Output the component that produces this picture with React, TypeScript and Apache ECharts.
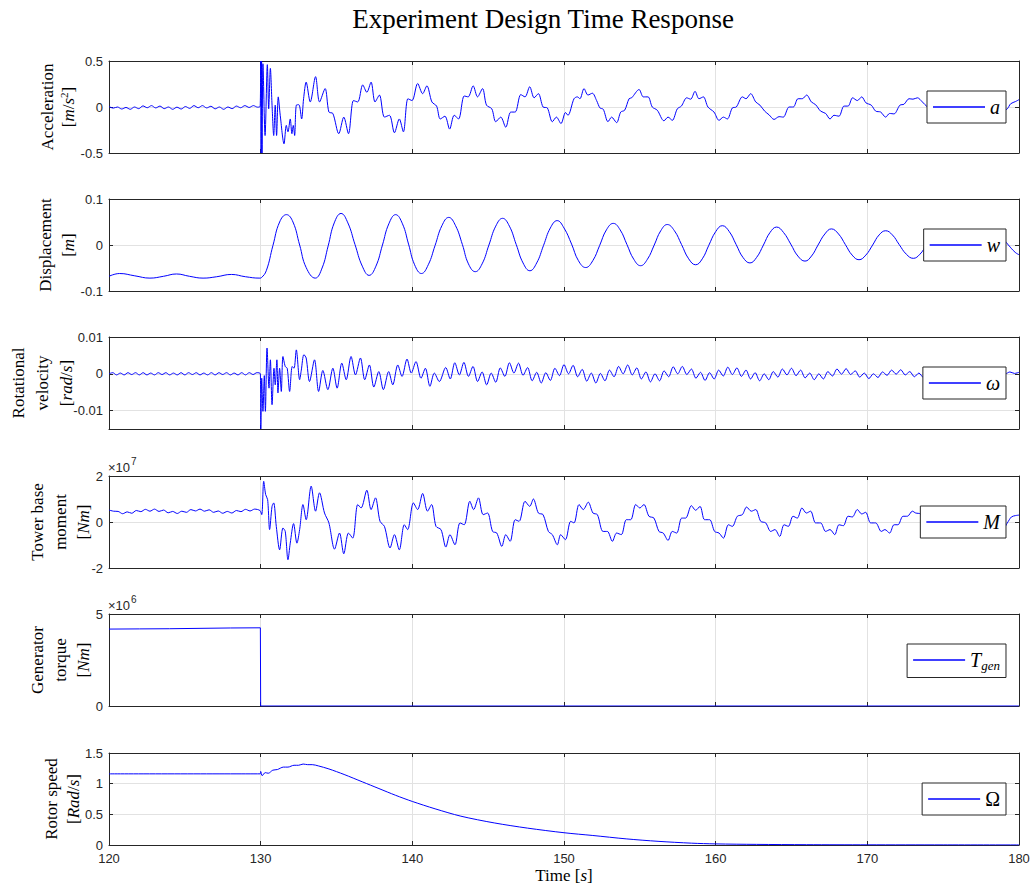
import React, { useEffect, useRef } from 'react';
import * as echarts from 'echarts';

type P = [number, number];

const chartTitle = 'Experiment Design Time Response';
const timeMin = 120;
const timeMax = 180;
const timeStep = 10;

// ---------- Acceleration a [m/s^2] ----------
const accelPre: P[] = [
  [120.0, 0.005], [120.28, -0.012], [120.56, 0.0], [120.84, -0.022], [121.12, -0.005], [121.4, -0.025],
  [121.68, 0.0], [121.96, -0.018], [122.24, 0.012], [122.52, -0.008], [122.8, 0.015], [123.08, -0.01],
  [123.36, 0.01], [123.64, -0.018], [123.92, 0.0], [124.2, -0.025], [124.48, -0.002], [124.76, -0.022],
  [125.04, 0.005], [125.32, -0.015], [125.6, 0.015], [125.88, -0.008], [126.16, 0.015], [126.44, -0.01],
  [126.72, 0.008], [127.0, -0.02], [127.28, 0.0], [127.56, -0.025], [127.84, 0.0], [128.12, -0.018],
  [128.4, 0.01], [128.68, -0.008], [128.96, 0.015], [129.24, -0.005], [129.52, 0.015], [129.8, -0.002],
  [129.97, 0.008],
];
const accelPost: P[] = [
  [130.0, 0.5], [130.03, -0.5], [130.06, 0.5], [130.09, -0.5], [130.15, 0.47], [130.29, -0.31],
  [130.44, 0.46], [130.53, -0.02], [130.64, 0.42], [130.75, 0.02], [130.86, -0.31], [130.96, 0.02],
  [131.05, -0.31], [131.16, 0.11], [131.29, -0.09], [131.54, -0.4], [131.69, -0.2], [131.8, -0.27],
  [131.95, -0.13], [132.06, -0.29], [132.15, -0.2], [132.24, -0.31], [132.35, 0.02], [132.52, 0.025],
  [132.7, -0.13], [132.83, 0.09], [133.0, 0.27], [133.27, 0.055], [133.62, 0.33], [133.88, 0.055],
  [134.25, 0.2], [134.5, -0.055], [134.76, -0.07], [135.15, -0.29], [135.48, -0.11], [135.79, -0.29],
  [136.12, 0.07], [136.4, 0.055], [136.73, 0.24], [137.0, 0.16], [137.28, 0.27], [137.54, 0.055],
  [137.83, 0.13], [138.16, -0.11], [138.49, -0.09], [138.82, -0.28], [139.14, -0.13], [139.41, -0.27],
  [139.71, 0.09], [139.98, 0.07], [140.35, 0.255], [140.68, 0.145], [140.96, 0.23], [141.29, 0.055],
  [141.6, 0.01], [141.84, -0.13], [142.15, -0.1], [142.46, -0.24], [142.76, -0.09], [143.05, -0.13],
  [143.42, 0.12], [143.68, 0.11], [144.01, 0.23], [144.3, 0.11], [144.63, 0.2], [144.89, 0.02],
  [145.24, -0.02], [145.5, -0.16], [145.83, -0.11], [146.16, -0.22], [146.49, -0.055], [146.78, -0.055],
  [147.15, 0.135], [147.43, 0.11], [147.74, 0.22], [148.03, 0.1], [148.31, 0.145], [148.62, 0.0],
  [148.9, -0.01], [149.23, -0.16], [149.5, -0.11], [149.8, -0.18], [150.1, -0.06], [150.26, -0.09],
  [150.66, 0.09], [150.88, 0.11], [151.05, 0.09], [151.32, 0.2], [151.58, 0.13], [151.87, 0.15],
  [152.15, 0.07], [152.37, -0.01], [152.59, -0.025], [152.9, -0.16], [153.14, -0.11], [153.47, -0.17],
  [153.74, -0.055], [154.0, -0.035], [154.29, 0.09], [154.46, 0.1], [154.95, 0.19], [155.23, 0.11],
  [155.54, 0.11], [155.82, 0.0], [156.15, -0.035], [156.59, -0.15], [156.86, -0.11], [157.14, -0.145],
  [157.47, -0.02], [157.74, 0.01], [158.09, 0.1], [158.35, 0.085], [158.64, 0.17], [158.9, 0.09],
  [159.19, 0.11], [159.49, 0.0], [159.89, -0.055], [160.22, -0.145], [160.51, -0.11], [160.77, -0.13],
  [161.1, -0.01], [161.36, 0.0], [161.76, 0.11], [162.0, 0.09], [162.31, 0.145], [162.64, 0.055],
  [162.92, 0.02], [163.23, -0.045], [163.52, -0.085], [163.85, -0.135], [164.18, -0.105], [164.46, -0.11],
  [164.84, 0.0], [165.12, 0.0], [165.43, 0.09], [165.71, 0.09], [166.0, 0.13], [166.31, 0.055],
  [166.59, 0.025], [166.92, -0.045], [167.25, -0.07], [167.54, -0.13], [167.8, -0.09], [168.13, -0.1],
  [168.46, 0.01], [168.73, 0.01], [169.03, 0.1], [169.34, 0.07], [169.63, 0.11], [169.91, 0.045],
  [170.26, 0.02], [170.55, -0.045], [170.88, -0.055], [171.21, -0.11], [171.47, -0.07], [171.76, -0.075],
  [172.15, 0.02], [172.42, 0.03], [172.75, 0.09], [173.01, 0.085], [173.3, 0.1], [173.63, 0.055],
  [173.96, 0.0], [174.3, -0.03], [174.7, -0.05], [175.0, -0.1], [175.4, -0.07], [175.7, -0.09],
  [176.0, -0.02], [176.4, 0.0], [176.7, 0.07], [177.0, 0.06], [177.3, 0.09], [177.6, 0.04],
  [178.0, 0.0], [178.3, -0.06], [178.6, -0.08], [178.9, -0.05], [179.23, -0.02], [179.45, 0.035],
  [179.78, 0.06], [180.0, 0.08],
];

// ---------- Displacement w [m] ----------
const dispPre: P[] = [
  [120.0, -0.068], [120.7, -0.062], [121.7, -0.067], [122.7, -0.072], [123.6, -0.068], [124.45, -0.063],
  [125.3, -0.068], [126.2, -0.072], [127.1, -0.069], [128.07, -0.064], [129.0, -0.069], [129.95, -0.072],
];
const dispPost: P[] = [
  [130.05, -0.071], [130.37, -0.056], [130.81, -0.001], [131.25, 0.05], [131.7, 0.066], [132.13, 0.05],
  [132.57, 0.0], [133.0, -0.049], [133.6, -0.072], [134.05, -0.05], [134.45, -0.002], [134.85, 0.048],
  [135.3, 0.0686], [135.75, 0.048], [136.22, 0.001], [136.7, -0.046], [137.15, -0.066], [137.6, -0.046],
  [138.03, 0.0], [138.45, 0.046], [138.9, 0.066], [139.35, 0.046], [139.75, 0.002], [140.15, -0.043],
  [140.6, -0.062], [141.05, -0.043], [141.5, -0.001], [141.95, 0.042], [142.4, 0.06], [142.85, 0.042],
  [143.3, 0.001], [143.7, -0.041], [144.15, -0.058], [144.6, -0.041], [145.05, 0.0], [145.5, 0.041],
  [145.95, 0.058], [146.4, 0.041], [146.85, 0.001], [147.3, -0.039], [147.75, -0.056], [148.2, -0.039],
  [148.65, -0.001], [149.1, 0.037], [149.55, 0.053], [150.0, 0.037], [150.5, 0.002], [150.95, -0.034],
  [151.43, -0.049], [151.9, -0.034], [152.35, -0.001], [152.8, 0.033], [153.25, 0.047], [153.7, 0.033],
  [154.15, 0.001], [154.6, -0.031], [155.05, -0.045], [155.5, -0.031], [155.95, 0.0], [156.38, 0.031],
  [156.81, 0.0445], [157.28, 0.031], [157.75, 0.001], [158.22, -0.03], [158.68, -0.043], [159.12, -0.03],
  [159.55, -0.0005], [160.0, 0.029], [160.44, 0.042], [160.9, 0.029], [161.35, 0.001], [161.8, -0.027],
  [162.26, -0.039], [162.7, -0.027], [163.15, 0.0], [163.58, 0.027], [164.02, 0.039], [164.48, 0.027],
  [164.95, 0.002], [165.42, -0.024], [165.89, -0.035], [166.32, -0.024], [166.75, 0.0], [167.2, 0.024],
  [167.63, 0.035], [168.1, 0.024], [168.55, 0.001], [169.0, -0.022], [169.45, -0.032], [169.9, -0.022],
  [170.35, 0.0], [170.78, 0.022], [171.21, 0.031], [171.65, 0.022], [172.1, 0.001], [172.57, -0.02],
  [173.03, -0.029], [173.47, -0.02], [173.9, 0.0], [174.35, 0.019], [174.8, 0.027], [175.25, 0.019],
  [175.7, 0.0], [176.15, -0.018], [176.6, -0.026], [177.05, -0.018], [177.5, 0.0], [177.95, 0.017],
  [178.4, 0.024], [178.85, 0.017], [179.3, 0.0], [179.75, -0.016], [180.0, -0.021],
];

// ---------- Rotational velocity omega [rad/s] ----------
const omegaPre: P[] = [
  [120.0, 0.0], [120.25, 0.0003], [120.5, -0.0003], [120.75, 0.0002], [121.0, -0.0003], [121.25, 0.0003],
  [121.5, -0.0002], [121.75, 0.0003], [122.0, -0.0003], [122.25, 0.0003], [122.5, -0.0003], [122.75, 0.0002],
  [123.0, -0.0003], [123.25, 0.0003], [123.5, -0.0002], [123.75, 0.0003], [124.0, -0.0003], [124.25, 0.0002],
  [124.5, -0.0003], [124.75, 0.0003], [125.0, -0.0003], [125.25, 0.0003], [125.5, -0.0002], [125.75, 0.0003],
  [126.0, -0.0003], [126.25, 0.0002], [126.5, -0.0003], [126.75, 0.0003], [127.0, -0.0003], [127.25, 0.0003],
  [127.5, -0.0002], [127.75, 0.0003], [128.0, -0.0003], [128.25, 0.0002], [128.5, -0.0003], [128.75, 0.0003],
  [129.0, -0.0003], [129.25, 0.0003], [129.5, -0.0002], [129.75, 0.0003], [129.98, 0.0],
];
const omegaPost: P[] = [
  [130.01, -0.015], [130.07, -0.0012], [130.15, -0.0102], [130.24, -0.0005], [130.31, -0.0102],
  [130.42, 0.007], [130.55, -0.0039], [130.64, 0.0038], [130.75, -0.0084], [130.88, 0.0015],
  [130.96, -0.003], [131.07, 0.0038], [131.14, -0.0052], [131.25, 0.0015], [131.36, -0.0048],
  [131.47, 0.0047], [131.62, 0.002], [131.75, 0.0015], [131.91, -0.0048], [132.08, 0.002], [132.2, 0.0015],
  [132.35, 0.0065], [132.57, -0.0016], [132.68, 0.001], [132.85, 0.0052], [133.0, 0.0043],
  [133.22, -0.0021], [133.55, 0.0038], [133.82, -0.0048], [134.1, 0.0009], [134.43, -0.0043],
  [134.76, 0.0015], [135.04, -0.0039], [135.35, 0.0029], [135.64, -0.0016], [135.96, 0.0047],
  [136.25, -0.0003], [136.58, 0.0043], [136.86, -0.0016], [137.17, 0.0024], [137.46, -0.0036],
  [137.79, 0.0006], [138.09, -0.0043], [138.44, 0.0006], [138.71, -0.003], [139.04, 0.0024],
  [139.32, -0.0007], [139.65, 0.004], [139.93, 0.0002], [140.24, 0.0033], [140.57, -0.0012],
  [140.86, 0.0015], [141.16, -0.0034], [141.45, 0.0002], [141.78, -0.0021], [142.2, 0.0017],
  [142.5, -0.0014], [142.8, 0.003], [143.1, -0.0003], [143.4, 0.0031], [143.7, -0.0007], [144.0, 0.002],
  [144.3, -0.0021], [144.6, 0.0005], [144.9, -0.003], [145.2, 0.0002], [145.5, -0.0023], [145.8, 0.0016],
  [146.1, -0.0007], [146.4, 0.003], [146.7, 0.0002], [147.0, 0.0029], [147.3, -0.0004], [147.6, 0.0017],
  [147.9, -0.0019], [148.2, 0.0004], [148.5, -0.0025], [148.8, 0.0003], [149.1, -0.0018], [149.4, 0.0015],
  [149.7, -0.0005], [150.0, 0.0025], [150.3, 0.0], [150.6, 0.0023], [150.9, -0.0008], [151.2, 0.0012],
  [151.5, -0.002], [151.8, 0.0002], [152.1, -0.0025], [152.4, 0.0001], [152.7, -0.0019], [153.0, 0.001],
  [153.3, -0.0008], [153.6, 0.002], [153.9, 0.0], [154.2, 0.0024], [154.5, -0.0003], [154.8, 0.0016],
  [155.1, -0.0014], [155.4, 0.0005], [155.7, -0.0022], [156.0, 0.0], [156.3, -0.0019], [156.6, 0.0008],
  [156.9, -0.0008], [157.2, 0.0019], [157.5, 0.0], [157.8, 0.002], [158.1, -0.0002], [158.4, 0.0013],
  [158.7, -0.0012], [159.0, 0.0004], [159.3, -0.0018], [159.6, 0.0003], [159.9, -0.0014], [160.2, 0.001],
  [160.5, -0.0006], [160.8, 0.0018], [161.1, -0.0002], [161.4, 0.0016], [161.7, -0.0007], [162.0, 0.001],
  [162.3, -0.0014], [162.6, 0.0003], [162.9, -0.0019], [163.2, 0.0], [163.5, -0.0016], [163.8, 0.0006],
  [164.1, -0.0009], [164.4, 0.0013], [164.7, -0.0003], [165.0, 0.0015], [165.3, -0.0005], [165.6, 0.001],
  [165.9, -0.0011], [166.2, 0.0002], [166.5, -0.0016], [166.8, 0.0], [167.1, -0.0014], [167.4, 0.0006],
  [167.7, -0.0006], [168.0, 0.0013], [168.3, -0.0001], [168.6, 0.0014], [168.9, -0.0002], [169.2, 0.0008],
  [169.5, -0.0009], [169.8, 0.0002], [170.1, -0.0013], [170.4, 0.0], [170.7, -0.001], [171.0, 0.0005],
  [171.3, -0.0004], [171.6, 0.001], [171.9, -0.0001], [172.2, 0.0011], [172.5, -0.0003], [172.8, 0.0006],
  [173.1, -0.0008], [173.4, 0.0002], [173.7, -0.001], [174.0, 0.0002], [174.3, -0.0008], [174.6, 0.0006],
  [174.9, -0.0003], [175.2, 0.0009], [175.5, -0.0001], [175.8, 0.0008], [176.1, -0.0003], [176.4, 0.0004],
  [176.7, -0.0007], [177.0, 0.0001], [177.3, -0.0008], [177.6, 0.0001], [177.9, -0.0006], [178.2, 0.0003],
  [178.5, -0.0003], [178.8, 0.0006], [179.1, 0.0], [179.4, 0.0005], [179.7, 0.0001], [180.0, 0.0004],
];

// ---------- Tower base moment M [Nm], in units of 1e7 ----------
const momentPre: P[] = [
  [120.0, 0.52], [120.3, 0.47], [120.6, 0.46], [120.9, 0.36], [121.2, 0.44], [121.5, 0.38], [121.8, 0.5],
  [122.1, 0.45], [122.4, 0.55], [122.7, 0.47], [123.0, 0.56], [123.3, 0.46], [123.6, 0.52], [123.9, 0.4],
  [124.2, 0.46], [124.5, 0.37], [124.8, 0.47], [125.1, 0.42], [125.4, 0.54], [125.7, 0.48], [126.0, 0.56],
  [126.3, 0.47], [126.6, 0.53], [126.9, 0.42], [127.2, 0.48], [127.5, 0.38], [127.8, 0.46], [128.1, 0.39],
  [128.4, 0.5], [128.7, 0.45], [129.0, 0.55], [129.3, 0.48], [129.6, 0.56], [129.95, 0.5],
];
const momentPost: P[] = [
  [130.07, 0.32], [130.2, 1.77], [130.33, 1.19], [130.46, 0.97], [130.59, -0.33], [130.75, 0.68],
  [130.86, 0.83], [131.03, -0.19], [131.25, -1.21], [131.47, -0.26], [131.62, -0.41], [131.8, -1.64],
  [131.95, -0.92], [132.17, -0.07], [132.39, -0.92], [132.57, -0.33], [132.79, 0.76], [133.0, 0.1],
  [133.33, 1.56], [133.62, 0.47], [133.88, 1.27], [134.21, 0.39], [134.5, -0.04], [134.87, -1.18],
  [135.2, -0.48], [135.48, -1.38], [135.79, -0.48], [136.07, -0.7], [136.4, 0.76], [136.62, 0.61],
  [137.0, 1.38], [137.28, 0.54], [137.57, 1.05], [137.87, 0.03], [138.16, -0.19], [138.53, -1.13],
  [138.82, -0.55], [139.14, -1.21], [139.47, -0.12], [139.69, -0.33], [140.07, 0.83], [140.35, 0.54],
  [140.68, 1.24], [141.0, 0.47], [141.27, 0.76], [141.56, -0.19], [141.89, -0.33], [142.21, -1.09],
  [142.48, -0.55], [142.81, -0.99], [143.14, -0.04], [143.42, -0.12], [143.79, 0.9], [144.04, 0.54],
  [144.36, 1.05], [144.67, 0.32], [144.96, 0.39], [145.29, -0.41], [145.57, -0.48], [145.9, -1.06],
  [146.16, -0.55], [146.45, -0.84], [146.78, 0.1], [147.04, 0.03], [147.43, 0.9], [147.74, 0.68],
  [147.98, 1.0], [148.31, 0.39], [148.62, 0.32], [148.97, -0.41], [149.23, -0.55], [149.56, -0.99],
  [149.78, -0.55], [150.09, -0.77], [150.44, 0.03], [150.66, -0.04], [150.99, 0.76], [151.27, 0.54],
  [151.6, 0.86], [151.91, 0.39], [152.2, 0.32], [152.57, -0.41], [152.86, -0.41], [153.19, -0.84],
  [153.47, -0.48], [153.78, -0.55], [154.11, 0.1], [154.4, 0.1], [154.73, 0.76], [155.0, 0.61],
  [155.27, 0.76], [155.6, 0.25], [155.93, 0.17], [156.26, -0.41], [156.54, -0.48], [156.86, -0.8],
  [157.14, -0.41], [157.43, -0.48], [157.76, 0.17], [158.02, 0.17], [158.4, 0.71], [158.68, 0.51],
  [158.97, 0.68], [159.27, 0.1], [159.6, 0.1], [159.93, -0.41], [160.22, -0.48], [160.51, -0.7],
  [160.84, -0.12], [161.1, -0.19], [161.43, 0.25], [161.76, 0.32], [162.04, 0.65], [162.35, 0.47],
  [162.64, 0.54], [162.97, 0.03], [163.3, -0.04], [163.63, -0.41], [163.91, -0.33], [164.22, -0.63],
  [164.51, -0.12], [164.79, -0.19], [165.1, 0.25], [165.38, 0.17], [165.69, 0.61], [165.98, 0.39],
  [166.26, 0.47], [166.59, -0.04], [166.92, -0.04], [167.25, -0.41], [167.54, -0.33], [167.85, -0.55],
  [168.13, -0.12], [168.42, -0.16], [168.73, 0.25], [169.01, 0.22], [169.34, 0.54], [169.63, 0.35],
  [169.89, 0.42], [170.22, -0.04], [170.55, -0.04], [170.92, -0.41], [171.16, -0.33], [171.47, -0.48],
  [171.76, -0.12], [172.02, -0.12], [172.35, 0.25], [172.64, 0.25], [172.97, 0.47], [173.19, 0.39],
  [173.5, 0.35], [173.8, 0.05], [174.1, -0.05], [174.5, -0.35], [174.8, -0.25], [175.1, -0.4],
  [175.4, -0.1], [175.7, -0.15], [176.1, 0.2], [176.4, 0.2], [176.7, 0.4], [177.0, 0.3], [177.3, 0.35],
  [177.6, 0.0], [178.0, -0.05], [178.3, -0.3], [178.6, -0.25], [178.9, -0.35], [179.23, -0.04],
  [179.5, 0.22], [179.78, 0.28], [180.0, 0.3],
];

// ---------- Generator torque [Nm], in units of 1e6 ----------
const torque: P[] = [
  [120.0, 4.18], [122.0, 4.19], [124.0, 4.2], [126.0, 4.22], [128.0, 4.24], [129.98, 4.25],
  [130.0, 0.0], [180.0, 0.0],
];

// ---------- Rotor speed [Rad/s] ----------
const rotor: P[] = [
  [120.0, 1.16], [129.97, 1.16], [130.0, 1.2], [130.1, 1.13], [130.3, 1.18], [130.5, 1.17],
  [130.8, 1.22], [131.1, 1.23], [131.5, 1.27], [131.8, 1.27], [132.2, 1.3], [132.5, 1.3],
  [132.8, 1.32], [133.1, 1.31], [133.4, 1.31], [133.8, 1.29], [134.5, 1.24], [135.5, 1.15],
  [136.7, 1.03], [137.8, 0.92], [138.9, 0.81], [140.0, 0.71], [141.5, 0.59], [143.2, 0.47],
  [145.4, 0.36], [147.6, 0.275], [150.0, 0.2], [151.9, 0.155], [154.1, 0.1], [156.2, 0.06],
  [158.4, 0.03], [160.0, 0.018], [162.7, 0.01], [166.0, 0.005], [170.0, 0.003], [175.0, 0.002],
  [180.0, 0.001],
];

// ---------- Y axis ranges and ticks ----------
const accelTicks = [-0.5, 0, 0.5];
const dispTicks = [-0.1, 0, 0.1];
const omegaTicks = [-0.01, 0, 0.01];
const momentTicks = [-2, 0, 2];
const torqueTicks = [0, 5];
const rotorTicks = [0, 0.5, 1, 1.5];

const SERIF = '"Liberation Serif", "Times New Roman", serif';
const SANS = '"Liberation Sans", Arial, Helvetica, sans-serif';
const AXIS = '#262626';
const GRIDC = '#e2e2e2';
const BLUE = '#0000ff';

const gridTops = [61, 199, 337, 476, 614, 753];
const gridH = 92;
const gridLeft = 109;
const gridRight = 14;

const panels = [
  { name: 'a', data: [...accelPre, ...accelPost], min: -0.5, max: 0.5, ticks: accelTicks, smooth: 0.3 as number | boolean },
  { name: 'w', data: [...dispPre, ...dispPost], min: -0.1, max: 0.1, ticks: dispTicks, smooth: 0.45 as number | boolean },
  { name: 'ω', data: [...omegaPre, ...omegaPost], min: -0.015, max: 0.01, ticks: omegaTicks, smooth: 0.3 as number | boolean },
  { name: 'M', data: [...momentPre, ...momentPost], min: -2, max: 2, ticks: momentTicks, smooth: 0.3 as number | boolean },
  { name: 'T_gen', data: torque, min: 0, max: 5, ticks: torqueTicks, smooth: false as number | boolean },
  { name: 'Ω', data: rotor, min: 0, max: 1.5, ticks: rotorTicks, smooth: 0.3 as number | boolean },
];

const yLabelLines: { text: string; x: number }[][] = [
  [{ text: 'Acceleration', x: 47 }, { text: '{r|[}{i|m}{r|/}{i|s}{p|2}{r|]}', x: 68 }],
  [{ text: 'Displacement', x: 45 }, { text: '{r|[}{i|m}{r|]}', x: 68 }],
  [{ text: 'Rotational', x: 18 }, { text: 'velocity', x: 42 }, { text: '{r|[}{i|rad}{r|/}{i|s}{r|]}', x: 66 }],
  [{ text: 'Tower base', x: 37 }, { text: 'moment', x: 60 }, { text: '{r|[}{i|Nm}{r|]}', x: 83 }],
  [{ text: 'Generator', x: 37 }, { text: 'torque', x: 60 }, { text: '{r|[}{i|Nm}{r|]}', x: 83 }],
  [{ text: 'Rotor speed', x: 51 }, { text: '{r|[}{i|Rad}{r|/}{i|s}{r|]}', x: 73 }],
];

export default function App() {
  const ref = useRef<HTMLDivElement>(null);

  useEffect(() => {
    if (!ref.current) return;
    const chart = echarts.init(ref.current, undefined, { renderer: 'svg' });

    const labelRich = {
      r: { fontFamily: SERIF, fontSize: 17, color: '#000' },
      i: { fontFamily: SERIF, fontSize: 17, fontStyle: 'italic', color: '#000' },
      p: { fontFamily: SERIF, fontSize: 11, color: '#000', padding: [0, 0, 9, 0] },
    };

    const grids: any[] = [];
    const xAxes: any[] = [];
    const yAxes: any[] = [];
    const series: any[] = [];
    const legends: any[] = [];
    const graphics: any[] = [];

    panels.forEach((p, i) => {
      grids.push({ left: gridLeft, right: gridRight, top: gridTops[i], height: gridH, show: false, containLabel: false });
      const isLast = i === panels.length - 1;
      const baseX = {
        type: 'value', gridIndex: i, min: timeMin, max: timeMax, interval: timeStep,
        axisLine: { show: true, onZero: false, lineStyle: { color: AXIS, width: 1 } },
        axisTick: { show: true, inside: true, length: 4, lineStyle: { color: AXIS } },
      };
      xAxes.push({
        ...baseX, position: 'bottom',
        axisLabel: { show: isLast, color: AXIS, fontFamily: SANS, fontSize: 13, margin: 7 },
        splitLine: { show: true, lineStyle: { color: GRIDC, width: 1 } },
      });
      xAxes.push({ ...baseX, position: 'top', axisLabel: { show: false }, splitLine: { show: false } });
      const baseY = {
        type: 'value', gridIndex: i, min: p.min, max: p.max,
        axisLine: { show: true, onZero: false, lineStyle: { color: AXIS, width: 1 } },
        axisTick: { show: true, inside: true, length: 4, lineStyle: { color: AXIS }, customValues: p.ticks },
      };
      yAxes.push({
        ...baseY, position: 'left',
        axisLabel: { show: true, color: AXIS, fontFamily: SANS, fontSize: 13, margin: 6, customValues: p.ticks, formatter: (v: number) => String(v) },
        splitLine: { show: true, lineStyle: { color: GRIDC, width: 1 } },
      });
      yAxes.push({ ...baseY, position: 'right', axisLabel: { show: false }, splitLine: { show: false } });

      series.push({
        type: 'line', name: p.name, xAxisIndex: 2 * i, yAxisIndex: 2 * i, data: p.data,
        showSymbol: false, symbol: 'none', smooth: p.smooth, clip: true, silent: true,
        lineStyle: { color: BLUE, width: 1 }, itemStyle: { color: BLUE },
      });

      const boxH = 32;
      legends.push({
        data: [p.name], right: 27, top: gridTops[i] + gridH / 2 - boxH / 2,
        backgroundColor: '#fff', borderColor: AXIS, borderWidth: 1, borderRadius: 0,
        padding: [6, 6, 6, 6], itemWidth: 52, itemHeight: 1.5, icon: 'rect', selectedMode: false,
        formatter: (name: string) => {
          if (name === 'T_gen') return '{t|T}{g|gen}';
          if (name === 'Ω') return '{u|Ω}';
          return '{t|' + name + '}';
        },
        textStyle: {
          color: '#000', fontFamily: SERIF, fontSize: 19, lineHeight: 20,
          rich: {
            t: { fontFamily: SERIF, fontSize: 20, fontStyle: 'italic', color: '#000' },
            g: { fontFamily: SERIF, fontSize: 13, fontStyle: 'italic', color: '#000', padding: [10, 0, 0, 0] },
            u: { fontFamily: SERIF, fontSize: 20, color: '#000' },
          },
        },
      });

      const cy = gridTops[i] + gridH / 2;
      yLabelLines[i].forEach((ln) => {
        graphics.push({
          type: 'text', x: ln.x, y: cy, rotation: Math.PI / 2, silent: true,
          style: {
            text: ln.text.includes('{') ? ln.text : '{r|' + ln.text + '}',
            rich: labelRich, align: 'center', verticalAlign: 'middle', fill: '#000',
          },
        });
      });
    });

    graphics.push({
      type: 'text', x: 543, y: 19, silent: true,
      style: { text: chartTitle, fontFamily: SERIF, fontSize: 27, fill: '#000', align: 'center', verticalAlign: 'middle' },
    });
    graphics.push({
      type: 'text', x: 564, y: 875, silent: true,
      style: { text: '{r|Time [}{i|s}{r|]}', rich: labelRich, align: 'center', verticalAlign: 'middle', fill: '#000' },
    });
    // axis exponent labels
    [{ y: gridTops[3], e: '7' }, { y: gridTops[4], e: '6' }].forEach((ex) => {
      graphics.push({
        type: 'text', x: 108, y: ex.y - 9, silent: true,
        style: { text: '×10', fontFamily: SANS, fontSize: 13, fill: AXIS, align: 'left', verticalAlign: 'middle' },
      });
      graphics.push({
        type: 'text', x: 131, y: ex.y - 15, silent: true,
        style: { text: ex.e, fontFamily: SANS, fontSize: 10, fill: AXIS, align: 'left', verticalAlign: 'middle' },
      });
    });

    chart.setOption({
      animation: false,
      backgroundColor: '#fff',
      grid: grids,
      xAxis: xAxes,
      yAxis: yAxes,
      series,
      legend: legends,
      graphic: graphics,
    });

    return () => chart.dispose();
  }, []);

  return <div ref={ref} style={{ position: 'fixed', left: 0, top: 0, width: 1033, height: 889 }} />;
}
